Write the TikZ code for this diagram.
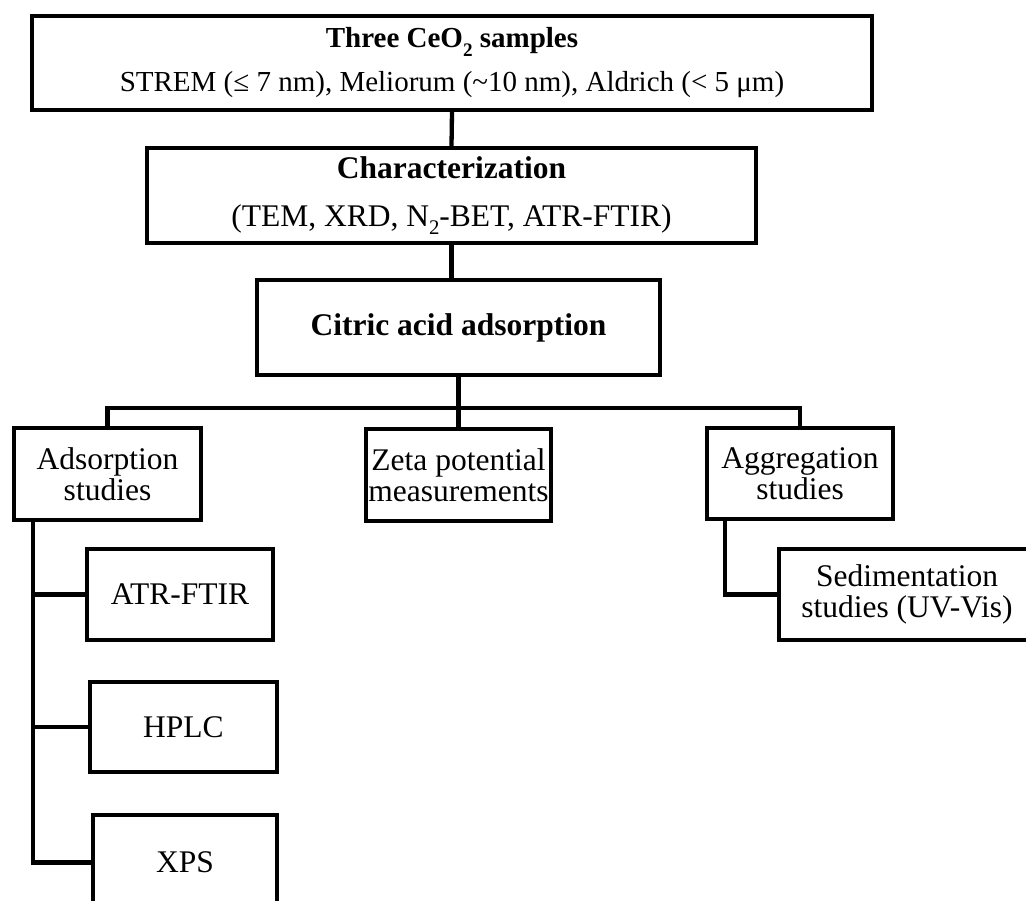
\documentclass[tikz,border=0pt]{standalone}
\usepackage{fontspec}
\setmainfont{Liberation Serif}
\newcommand\mysub[1]{\raisebox{-0.28em}{\scalebox{0.66}{#1}}}
\begin{document}
\begin{tikzpicture}[x=1pt,y=-1pt,
  box/.style={draw, line width=4.3pt, inner sep=0pt, align=center,
    font=\fontsize{31.5}{31.5}\selectfont},
  link/.style={line width=4.3pt}]
\useasboundingbox (0,0) rectangle (1026,901);
\clip (0,0) rectangle (1026,901);

\node[box, minimum width=840pt, minimum height=94pt, font=\fontsize{29}{44}\selectfont]
  (top) at (452,63) {\textbf{Three CeO\mysub{2} samples}\\STREM (≤ 7 nm), Meliorum (\textasciitilde10 nm), Aldrich (< 5 μm)};
\node[box, minimum width=609pt, minimum height=95pt, font=\fontsize{31.5}{48}\selectfont]
  (char) at (451.5,195.5) {\textbf{Characterization}\\(TEM, XRD, N\mysub{2}-BET, ATR-FTIR)};
\node[box, minimum width=403pt, minimum height=95pt]
  (cit) at (458.5,327.5) {\textbf{Citric acid adsorption}};

\node[box, minimum width=187pt, minimum height=92pt] (ads) at (107.5,474) {Adsorption\\studies};
\node[box, minimum width=185pt, minimum height=92pt] (zeta) at (458.5,475) {Zeta potential\\measurements};
\node[box, minimum width=186pt, minimum height=91pt] (agg) at (800,473.5) {Aggregation\\studies};

\node[box, minimum width=186pt, minimum height=91pt] (atr) at (180,594.5) {ATR-FTIR};
\node[box, minimum width=187pt, minimum height=90pt] (hplc) at (183.5,727) {HPLC};
\node[box, minimum width=184pt, minimum height=95pt] (xps) at (185,862.5) {XPS};
\node[box, minimum width=256pt, minimum height=91pt] (sed) at (907,594.5)
  {Sedimentation\\studies (UV-Vis)};

\draw[link] (top.south) -- (char.north);
\draw[link] (char.south) -- (char.south |- cit.north);
\draw[link] (cit.south) -- (zeta.north);
\coordinate (bus) at (458.5,408);
\draw[link] (ads.north) |- (bus) -| (agg.north);

\coordinate (tk) at (33,522);
\draw[link] (tk) |- (xps.west);
\draw[link] (tk |- atr.west) -- (atr.west);
\draw[link] (tk |- hplc.west) -- (hplc.west);

\coordinate (tk2) at (725,521);
\draw[link] (tk2) |- (sed.west);
\end{tikzpicture}
\end{document}
